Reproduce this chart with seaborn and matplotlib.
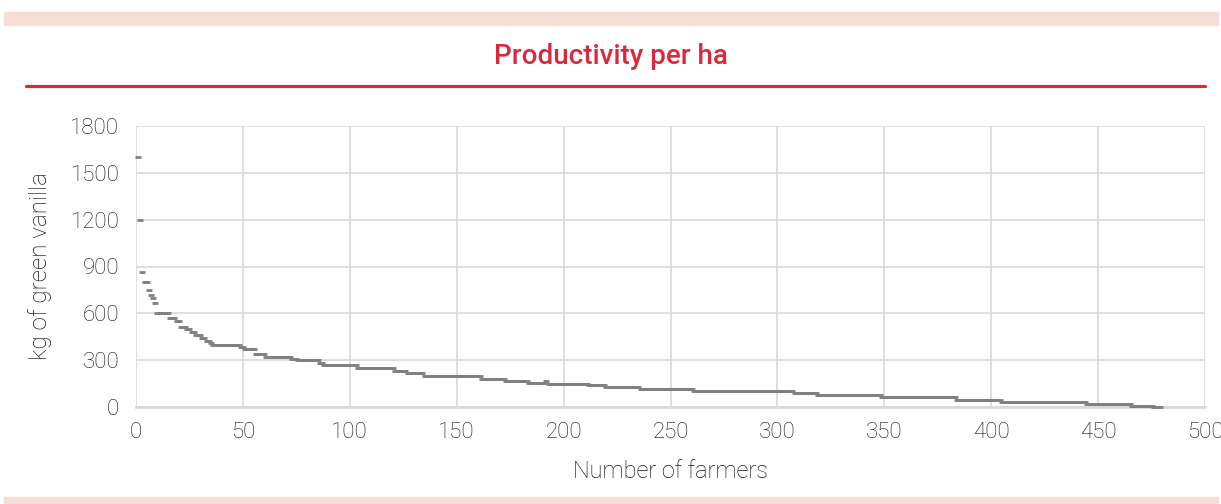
import numpy as np
import pandas as pd
import matplotlib
matplotlib.use("Agg")
import matplotlib.pyplot as plt
import seaborn as sns
from matplotlib.patches import Rectangle
from matplotlib.lines import Line2D

# Productivity levels (kg of green vanilla per ha), ranked from highest to lowest
yield_levels = [1600, 1200, 867, 800, 750, 720, 700, 667, 600, 567, 550, 514,
                500, 480, 460, 444, 425, 412, 400, 384, 369, 337, 322, 310,
                300, 280, 267, 250, 233, 220, 200, 180, 167, 155, 167, 150,
                140, 125, 113, 100, 88, 75, 62, 45, 32, 19, 4, 0]
# Number of farmers reporting each level
farmer_counts = [1, 1, 1, 2, 1, 1, 1, 1, 6, 3, 2, 3,
                 2, 2, 3, 2, 2, 1, 13, 2, 5, 5, 12, 3,
                 10, 2, 16, 17, 6, 8, 27, 11, 11, 8, 1, 19,
                 8, 16, 25, 47, 11, 30, 35, 21, 40, 21, 10, 4]

x_ticks = [0, 50, 100, 150, 200, 250, 300, 350, 400, 450, 500]
y_ticks = [0, 300, 600, 900, 1200, 1500, 1800]

title_text = "Productivity per ha"
x_title = "Number of farmers"
y_title = "kg of green vanilla"

productivity = np.repeat(yield_levels, farmer_counts)
df = pd.DataFrame({"farmer": np.arange(1, len(productivity) + 1),
                   "kg": productivity})

sns.set_theme(style="white")
plt.rcParams["font.family"] = ["Roboto", "DejaVu Sans"]

RED = "#d9293f"
PINK = "#f8dcd6"
GRID = "#d9d9d9"
TEXT = "#111111"

fig = plt.figure(figsize=(12.21, 5.04), dpi=100)
W, H = 1221, 504

# decorative bands and header rule
fig.patches.append(Rectangle((4 / W, 1 - 25 / H), 1214 / W, 13 / H,
                             transform=fig.transFigure, color=PINK, zorder=0))
fig.patches.append(Rectangle((4 / W, 0), 1214 / W, 7 / H,
                             transform=fig.transFigure, color=PINK, zorder=0))
fig.lines.append(Line2D([26 / W, 1205 / W], [1 - 85.5 / H, 1 - 85.5 / H],
                        transform=fig.transFigure, color=RED, lw=2.3))
fig.text(0.5, 1 - 57 / H, title_text, color=RED, fontsize=20,
         fontweight="medium", ha="center", va="center")

ax = fig.add_axes([136 / W, 1 - 407 / H, (1205 - 136) / W, (407 - 126) / H])

sns.scatterplot(data=df, x="farmer", y="kg", marker="_", s=14,
                color="#808080", edgecolor="#808080", linewidth=2.0,
                ax=ax, clip_on=False, zorder=3, legend=False)

ax.set_xlim(0, 500)
ax.set_ylim(0, 1800)
ax.set_xticks(x_ticks)
ax.set_yticks(y_ticks)
ax.set_xticklabels([str(t) for t in x_ticks])
ax.set_yticklabels([str(t) for t in y_ticks])
ax.grid(True, color=GRID, lw=1.2)
ax.set_axisbelow(True)
for side in ["top", "right", "left"]:
    ax.spines[side].set_visible(False)
ax.spines["bottom"].set_color(GRID)
ax.spines["bottom"].set_linewidth(2)
ax.tick_params(axis="both", length=0, labelsize=16, colors=TEXT)
ax.tick_params(axis="y", pad=12)
ax.tick_params(axis="x", pad=11)
for lab in ax.get_xticklabels() + ax.get_yticklabels():
    lab.set_fontweight("light")

ax.set_xlabel(x_title, fontsize=17, color=TEXT, fontweight="light", labelpad=12)
ax.set_ylabel(y_title, fontsize=17.5, color=TEXT, fontweight="light", labelpad=13)

fig.savefig("out.png", dpi=100, facecolor="white")
